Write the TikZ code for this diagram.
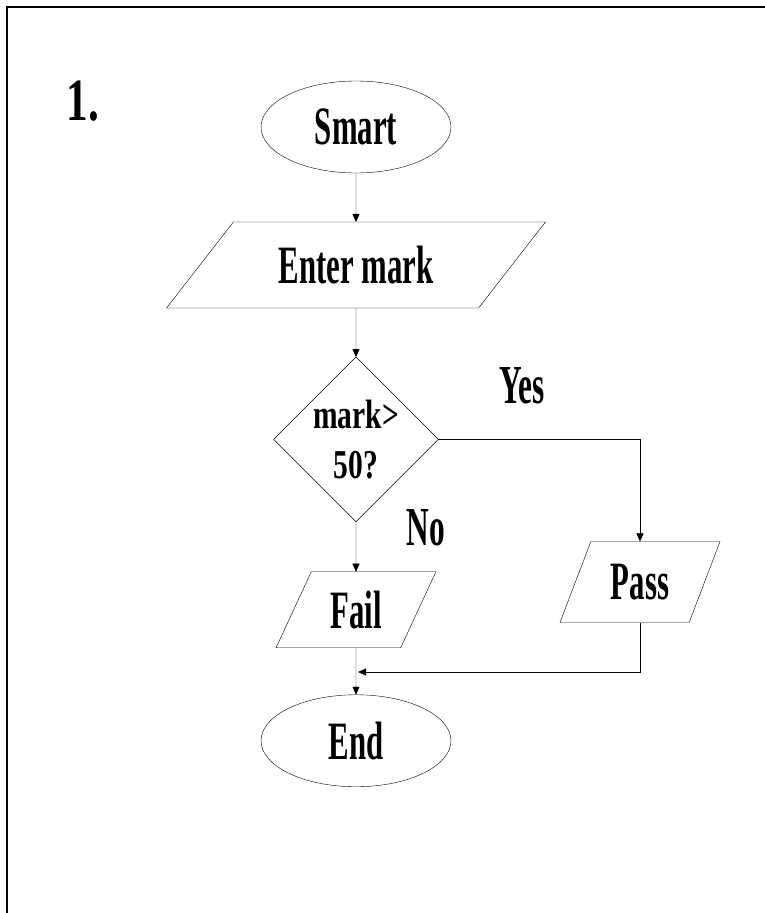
\documentclass[tikz,border=0pt]{standalone}
\usepackage{fontspec}
\usepackage{tikz}
\usetikzlibrary{arrows.meta,positioning,shapes.geometric}
\newfontfamily\flowfont[FakeStretch=0.57]{Liberation Serif}
\newfontfamily\testfont[FakeStretch=0.72]{Liberation Serif}

\begin{document}
\begin{tikzpicture}[
    x=1pt, y=-1pt,
    >={Triangle[length=8pt,width=7pt]},
    node distance=49pt,
    every node/.style={inner sep=0pt, outer sep=0pt},
    term/.style={draw, ellipse, minimum width=190pt, minimum height=92pt,
                 font=\flowfont\bfseries\fontsize{54}{60}\selectfont},
    io/.style={draw, trapezium, trapezium stretches=true,
               font=\flowfont\bfseries\fontsize{54}{60}\selectfont},
    test/.style={draw, diamond, minimum width=161pt, minimum height=160pt,
                 align=center, font=\testfont\bfseries\fontsize{41}{50}\selectfont},
    lbl/.style={font=\flowfont\bfseries\fontsize{55}{60}\selectfont}
]
    \useasboundingbox (0,0) rectangle (765,913);
    % frame
    \draw[line width=2pt] (7,913) -- (7,7) -- (765,7);

    \node[font=\testfont\bfseries\fontsize{60}{64}\selectfont] (num) at (83,101) {1.};

    \node[term] (start) at (356,127) {Smart};
    \node[io, trapezium left angle=42, trapezium right angle=138,
          minimum width=379pt, minimum height=86pt,
          below=of start] (enter) {Enter mark};
    \node[test, below=of enter] (dec) {mark>\\50?};
    \node[io, trapezium left angle=62, trapezium right angle=118,
          minimum width=160pt, minimum height=76pt,
          below=50pt of dec] (fail) {Fail};
    \node[io, trapezium left angle=63, trapezium right angle=117,
          minimum width=161pt, minimum height=81pt] (pass) at (640,582) {Pass};
    \node[term, below=47pt of fail] (end) {End};

    \node[lbl] (yes) at (522,386) {Yes};
    \node[lbl] (no) at (426,528) {No};
    \coordinate (join) at (358,672);

    \draw[->] (start) -- (enter);
    \draw[->] (enter) -- (dec);
    \draw[->] (dec) -- (fail);
    \draw[->] (dec.east) -| (pass.north);
    \draw[->] (fail) -- (end);
    \draw[->] (pass.south) |- (join);
\end{tikzpicture}
\end{document}
